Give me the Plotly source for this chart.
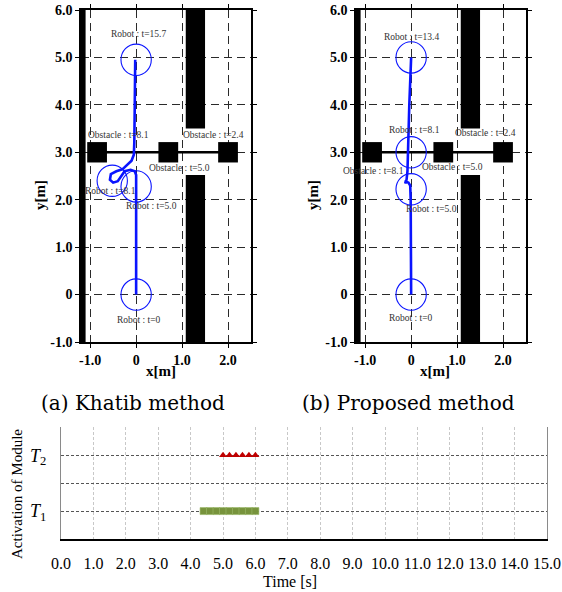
import plotly.graph_objects as go

# ---------------- data ----------------
# Khatib method trajectory (left)
khatib_x = [0.0, 0.0, 0.0, 0.01, 0.0, -0.03, -0.12, -0.25, -0.33, -0.40, -0.50, -0.57, -0.55, -0.43, -0.30, -0.20, -0.10, -0.05, -0.04, -0.03, -0.02, -0.02]
khatib_y = [0.0, 1.0, 2.0, 2.40, 2.52, 2.60, 2.63, 2.60, 2.50, 2.39, 2.36, 2.42, 2.54, 2.60, 2.64, 2.72, 2.82, 2.95, 3.20, 4.00, 4.50, 4.95]
# Proposed method trajectory (right)
prop_x = [0.0, 0.0, -0.01, -0.02, -0.06, -0.12, -0.13, -0.10, -0.08, -0.07, -0.04, 0.0]
prop_y = [0.0, 1.0, 2.00, 2.30, 2.36, 2.38, 2.34, 2.42, 2.60, 3.00, 4.00, 5.00]

robot_radius = 0.33
khatib_robot_x = [0.0, 0.0, -0.52, 0.0]
khatib_robot_y = [0.0, 2.28, 2.40, 4.95]
prop_robot_x = [0.0, 0.0, 0.0, 0.0]
prop_robot_y = [0.0, 2.22, 3.00, 5.00]

obstacle_x = [-0.85, 0.70, 2.00]
obstacle_y = [3.0, 3.0, 3.0]
obstacle_half = 0.215

# walls: [x0, x1, y0, y1]
wall_x0 = [-1.20, 1.08, 1.08]
wall_x1 = [-1.10, 1.50, 1.50]
wall_y0 = [-1.0, 3.50, -1.0]
wall_y1 = [6.0, 6.0, 2.52]

khatib_labels = ["Robot : t=15.7", "Obstacle : t=8.1", "Obstacle : t=2.4", "Obstacle : t=5.0",
                 "Robot : t=8.1", "Robot : t=5.0", "Robot : t=0"]
khatib_label_x = [0.05, -0.38, 1.69, 0.95, -0.55, 0.33, 0.07]
khatib_label_y = [5.50, 3.36, 3.37, 2.66, 2.18, 1.87, -0.53]
prop_labels = ["Robot : t=13.4", "Robot : t=8.1", "Obstacle : t=2.4", "Obstacle : t=8.1",
               "Obstacle : t=5.0", "Robot : t=5.0", "Robot : t=0"]
prop_label_x = [0.0, 0.08, 1.61, -0.82, 0.89, 0.44, 0.0]
prop_label_y = [5.44, 3.48, 3.40, 2.60, 2.69, 1.80, -0.50]

map_xticks = [-1, 0, 1, 2]
map_xticklabels = ["-1.0", "0", "1.0", "2.0"]
map_yticks = [-1, 0, 1, 2, 3, 4, 5, 6]
map_yticklabels = ["-1.0", "0", "1.0", "2.0", "3.0", "4.0", "5.0", "6.0"]

# activation chart
t2_times = [5.0, 5.2, 5.4, 5.6, 5.8, 6.0]
t1_times = [4.4, 4.6, 4.8, 5.0, 5.2, 5.4, 5.6, 5.8, 6.0]
time_ticks = list(range(0, 16))
time_ticklabels = [f"{v:.1f}" for v in time_ticks]
module_ticks = [1, 2, 3, 4]
module_ticklabels = ["<i>T</i><sub>1</sub>", "", "<i>T</i><sub>2</sub>", ""]

# ---------------- figure ----------------
W, H = 562, 592
fig = go.Figure()

BLUE = "#0a14ff"
SERIF = "Liberation Serif"

fig.add_trace(go.Scatter(x=khatib_x, y=khatib_y, mode="lines", line=dict(color=BLUE, width=2.6),
                         xaxis="x", yaxis="y", showlegend=False, hoverinfo="skip"))
fig.add_trace(go.Scatter(x=prop_x, y=prop_y, mode="lines", line=dict(color=BLUE, width=2.6),
                         xaxis="x2", yaxis="y2", showlegend=False, hoverinfo="skip"))

fig.add_trace(go.Scatter(x=t1_times, y=[1] * len(t1_times), mode="markers",
                         marker=dict(symbol="square", size=7, color="#77933c",
                                     line=dict(width=0.6, color="#9cb86a")),
                         xaxis="x3", yaxis="y3", showlegend=False))
fig.add_trace(go.Scatter(x=t2_times, y=[3] * len(t2_times), mode="markers",
                         marker=dict(symbol="triangle-up", size=7, color="#c00000"),
                         xaxis="x3", yaxis="y3", showlegend=False))

shapes = []
annotations = []
for xr, yr, rx, ry, labs, lx, ly in [
    ("x", "y", khatib_robot_x, khatib_robot_y, khatib_labels, khatib_label_x, khatib_label_y),
    ("x2", "y2", prop_robot_x, prop_robot_y, prop_labels, prop_label_x, prop_label_y),
]:
    for x0, x1, y0, y1 in zip(wall_x0, wall_x1, wall_y0, wall_y1):
        shapes.append(dict(type="rect", xref=xr, yref=yr, x0=x0, x1=x1, y0=y0, y1=y1,
                           fillcolor="black", line=dict(width=0), layer="between"))
    shapes.append(dict(type="line", xref=xr, yref=yr, x0=obstacle_x[0], x1=obstacle_x[-1],
                       y0=obstacle_y[0], y1=obstacle_y[-1], line=dict(color="black", width=2.5),
                       layer="between"))
    for ox, oy in zip(obstacle_x, obstacle_y):
        shapes.append(dict(type="rect", xref=xr, yref=yr, x0=ox - obstacle_half, x1=ox + obstacle_half,
                           y0=oy - obstacle_half, y1=oy + obstacle_half,
                           fillcolor="black", line=dict(width=0), layer="between"))
    for cx, cy in zip(rx, ry):
        shapes.append(dict(type="circle", xref=xr, yref=yr, x0=cx - robot_radius, x1=cx + robot_radius,
                           y0=cy - robot_radius, y1=cy + robot_radius,
                           line=dict(color=BLUE, width=1.1), layer="above"))
    for t, x, y in zip(labs, lx, ly):
        annotations.append(dict(text=t, x=x, y=y, xref=xr, yref=yr, showarrow=False,
                                xanchor="center", yanchor="middle",
                                font=dict(family=SERIF, size=9.5, color="#333333")))

def px(x):
    return x / W

def py(y):
    return 1 - y / H

def paper_text(text, x, y, font, angle=0):
    annotations.append(dict(text=text, x=px(x), y=py(y), xref="paper", yref="paper",
                            showarrow=False, xanchor="center", yanchor="middle",
                            textangle=angle, font=font))

# axis titles / captions
for cx in (161, 435):
    paper_text("x[m]", cx, 371, dict(family=SERIF, size=15, color="black", weight="bold"))
for cx in (40, 313):
    paper_text("y[m]", cx, 195, dict(family=SERIF, size=15, color="black", weight="bold"), -90)
paper_text("(a) Khatib method", 133, 403, dict(family="DejaVu Serif", size=20, color="black"))
paper_text("(b) Proposed method", 408, 403, dict(family="DejaVu Serif", size=20, color="black"))
paper_text("Time [s]", 290, 581, dict(family=SERIF, size=16, color="black"))
paper_text("Activation of Module", 17, 494, dict(family=SERIF, size=15, color="black"), -90)

map_x_common = dict(range=[-1.2, 2.5], tickvals=map_xticks, ticktext=map_xticklabels,
                    showgrid=True, gridcolor="#2a2a2a", gridwidth=1.2, griddash="8px,5px",
                    showline=True, linecolor="black", linewidth=1.6, mirror="ticks",
                    ticks="outside", ticklen=4, tickcolor="black", zeroline=False, automargin=False,
                    tickfont=dict(family=SERIF, size=14, color="black", weight="bold"))
map_y_common = dict(range=[-1, 6], tickvals=map_yticks, ticktext=map_yticklabels,
                    showgrid=True, gridcolor="#2a2a2a", gridwidth=1.2, griddash="8px,5px",
                    showline=True, linecolor="black", linewidth=1.6, mirror="ticks",
                    ticks="outside", ticklen=4, tickcolor="black", zeroline=False, automargin=False,
                    tickfont=dict(family=SERIF, size=14, color="black", weight="bold"),
                    domain=[py(342), py(10)])

fig.update_layout(
    width=W, height=H, margin=dict(l=0, r=0, t=0, b=0, autoexpand=False),
    paper_bgcolor="white", plot_bgcolor="white", showlegend=False,
    xaxis=dict(domain=[px(81), px(251)], anchor="y", **map_x_common),
    yaxis=dict(anchor="x", **map_y_common),
    xaxis2=dict(domain=[px(356), px(526)], anchor="y2", **map_x_common),
    yaxis2=dict(anchor="x2", **map_y_common),
    xaxis3=dict(domain=[px(61), px(547)], anchor="y3", range=[0, 15],
                tickvals=time_ticks, ticktext=time_ticklabels,
                showgrid=True, gridcolor="#c8c8c8", gridwidth=1, griddash="3px,2px",
                showline=True, linecolor="black", linewidth=2, zeroline=False, automargin=False,
                ticks="", ticklabelstandoff=9,
                tickfont=dict(family=SERIF, size=16, color="black")),
    yaxis3=dict(domain=[py(539), py(427.3)], anchor="x3", range=[0, 4],
                tickvals=module_ticks, ticktext=module_ticklabels,
                showgrid=True, gridcolor="#555555", gridwidth=1, griddash="3px,2px",
                showline=True, linecolor="#8a8a8a", linewidth=1.2, mirror=True, zeroline=False,
                automargin=False, ticks="", ticklabelstandoff=10,
                tickfont=dict(family=SERIF, size=18, color="black")),
    shapes=shapes, annotations=annotations,
)

fig.write_html("out.html", config={"displayModeBar": False},
               post_script="document.body.style.margin='0';")
